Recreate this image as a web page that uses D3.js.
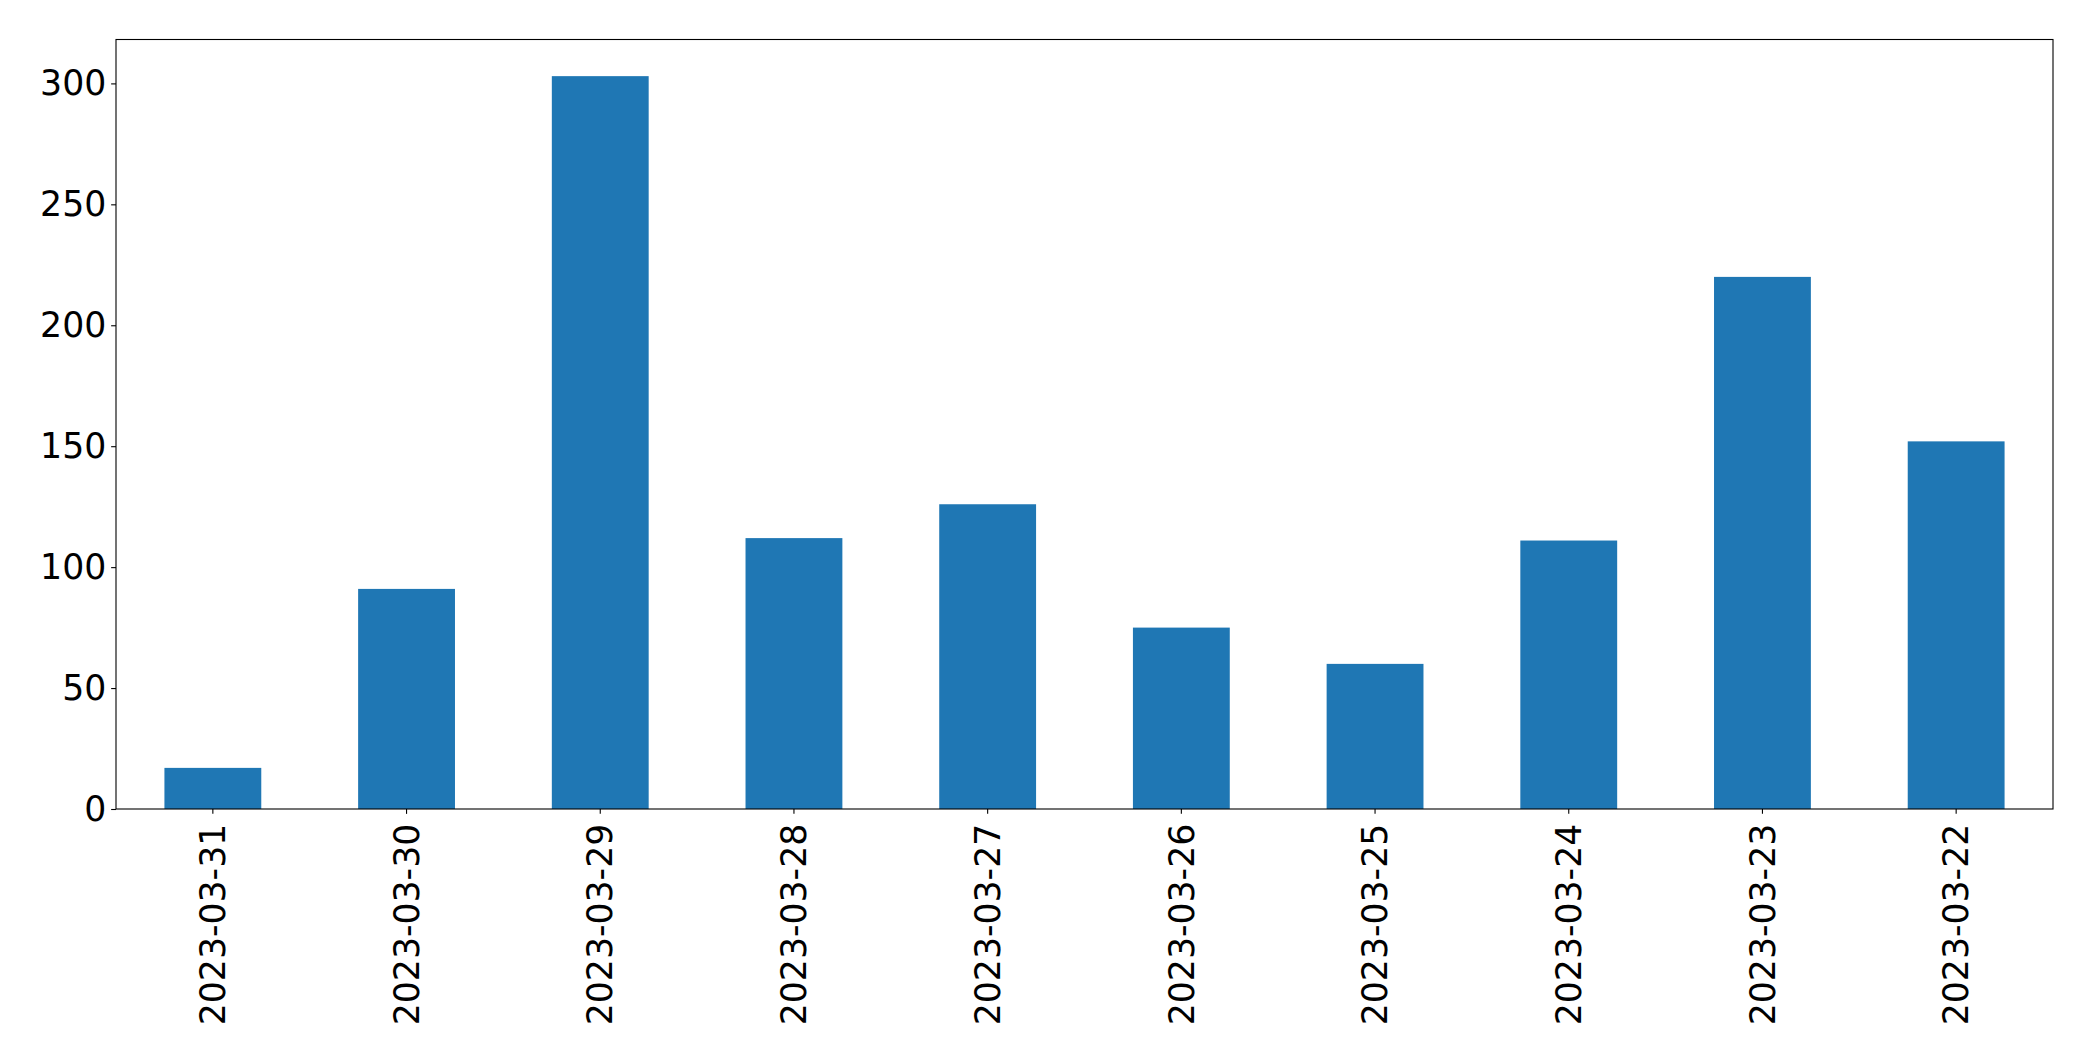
<!DOCTYPE html>
<html>
<head>
<meta charset="utf-8">
<script src="https://cdn.jsdelivr.net/npm/d3@7"></script>
<style>
  html, body { margin: 0; padding: 0; background: #fff; }
  svg { display: block; }
  text { font-family: "DejaVu Sans", sans-serif; fill: #000; }
</style>
</head>
<body>
<svg id="chart" width="2093" height="1061"></svg>
<script>
const categories = ["2023-03-31","2023-03-30","2023-03-29","2023-03-28","2023-03-27","2023-03-26","2023-03-25","2023-03-24","2023-03-23","2023-03-22"];
const values = [17, 91, 303, 112, 126, 75, 60, 111, 220, 152];
const yTicks = [0, 50, 100, 150, 200, 250, 300];

const W = 2093, H = 1061;
const margin = {left: 116, right: 40, top: 39.5, bottom: 252};
const iw = W - margin.left - margin.right;
const ih = H - margin.top - margin.bottom;
const fontSize = 34.7;
const tickLen = 4.86, tickPad = 4.86;

const svg = d3.select("#chart");
const g = svg.append("g").attr("transform", `translate(${margin.left},${margin.top})`);

const x = d3.scaleBand().domain(categories).range([0, iw]).paddingInner(0.5).paddingOuter(0.25);
const y = d3.scaleLinear().domain([0, d3.max(values) * 1.05]).range([ih, 0]);

g.selectAll("rect.bar").data(values).join("rect")
  .attr("class", "bar")
  .attr("x", (d, i) => x(categories[i]))
  .attr("width", x.bandwidth())
  .attr("y", d => y(d))
  .attr("height", d => ih - y(d))
  .attr("fill", "#1f77b4");

// Y axis
const yAxis = g.append("g").call(d3.axisLeft(y).tickValues(yTicks).tickSize(tickLen).tickPadding(tickPad).tickFormat(d3.format("d")));
yAxis.select(".domain").remove();
yAxis.selectAll(".tick line").attr("stroke", "#000").attr("stroke-width", 1.1);
yAxis.selectAll(".tick text").attr("font-size", fontSize).attr("font-family", "DejaVu Sans, sans-serif").attr("fill", "#000");

// X axis
const xAxis = g.append("g").attr("transform", `translate(0,${ih})`)
  .call(d3.axisBottom(x).tickSize(tickLen).tickPadding(tickPad));
xAxis.select(".domain").remove();
xAxis.selectAll(".tick line").attr("stroke", "#000").attr("stroke-width", 1.1);
xAxis.selectAll(".tick text")
  .attr("font-size", fontSize)
  .attr("font-family", "DejaVu Sans, sans-serif")
  .attr("fill", "#000")
  .attr("text-anchor", "end")
  .attr("transform", `translate(0,${tickLen + tickPad + 5}) rotate(-90)`)
  .attr("x", 0).attr("y", 0).attr("dy", "0.35em");

// Frame
g.append("rect").attr("x", 0).attr("y", 0).attr("width", iw).attr("height", ih)
  .attr("fill", "none").attr("stroke", "#000").attr("stroke-width", 1.1);
</script>
</body>
</html>
